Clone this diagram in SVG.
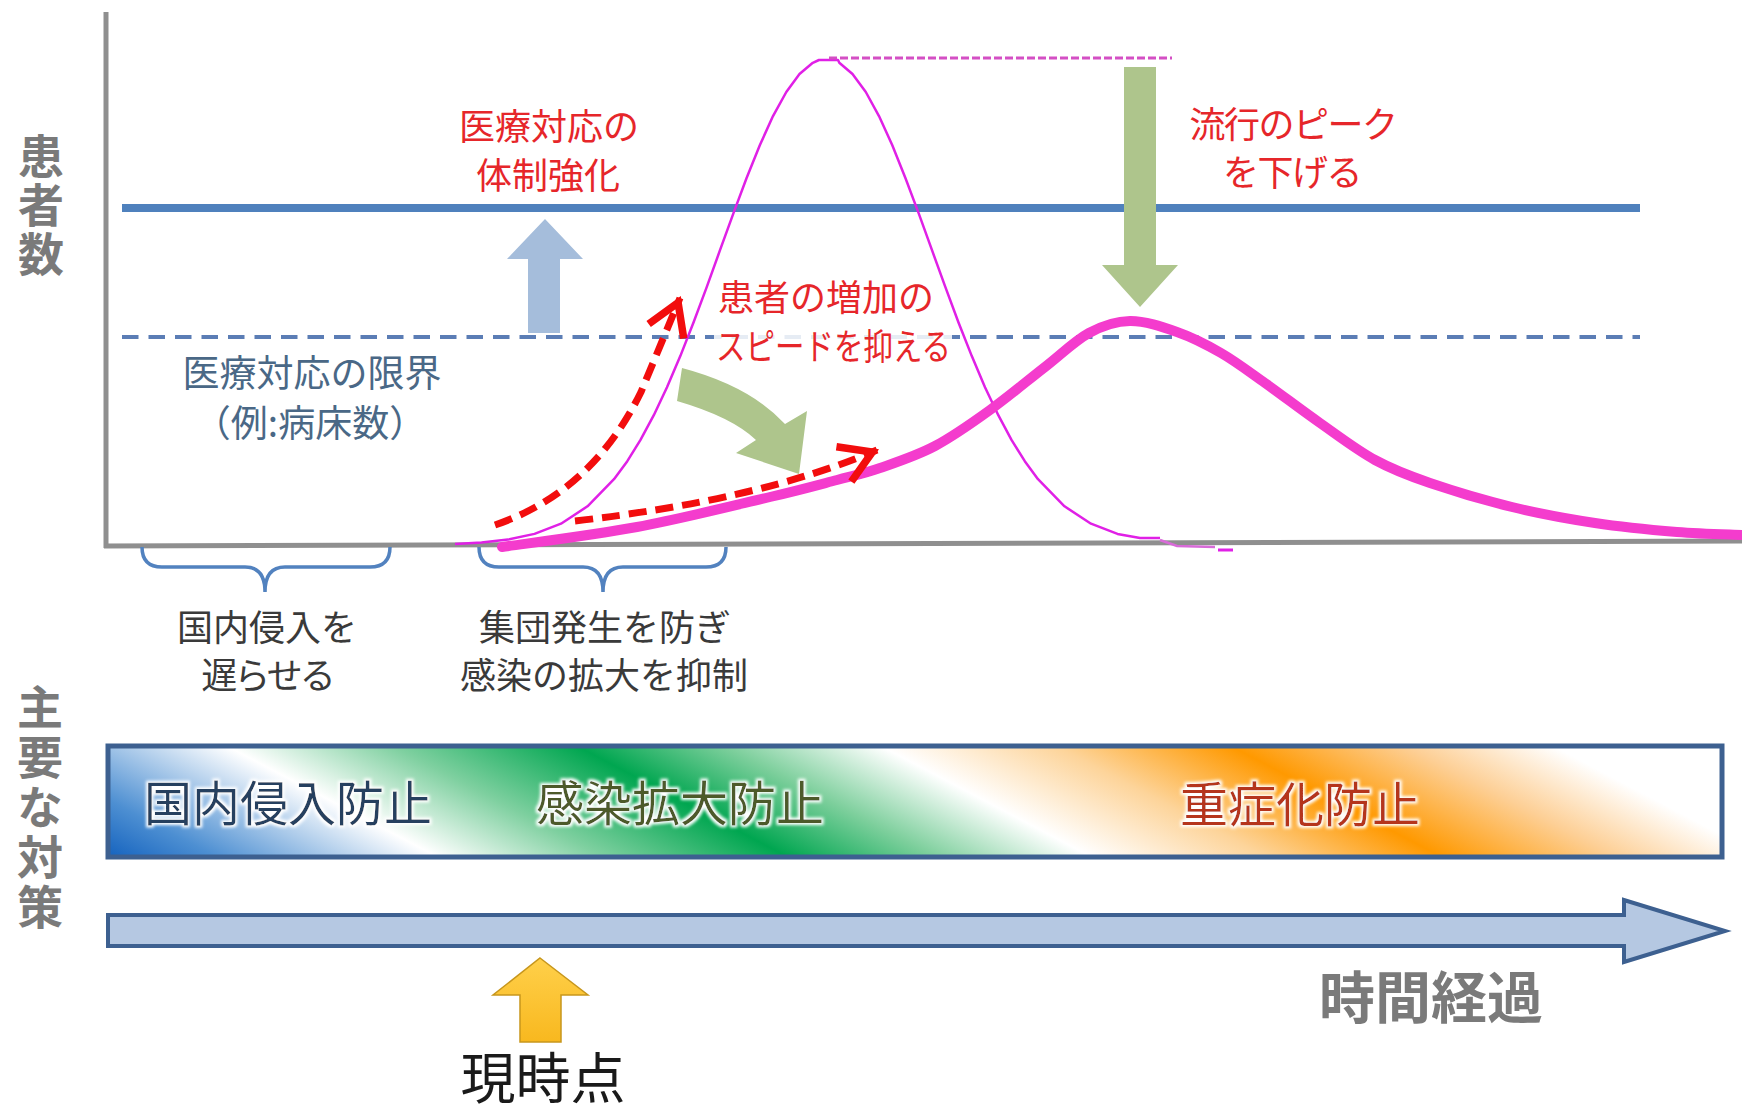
<svg xmlns="http://www.w3.org/2000/svg" width="1742" height="1113" viewBox="0 0 1742 1113">
<style>
text{font-family:"Noto Sans CJK JP","Noto Sans",sans-serif;}
.axis{stroke:#8f8f8f;stroke-width:5;fill:none;}
.red{fill:#e6262a;font-size:36px;}
.slate{fill:#4a6886;font-size:37px;}
.gray{fill:#3a3a3a;font-size:36px;}
.vlab{fill:#7a7a7a;font-size:46px;font-weight:700;writing-mode:vertical-rl;}
.brace{fill:none;stroke:#5282bf;stroke-width:3.5;}
.rdash{fill:none;stroke:#f20d0d;stroke-width:7;stroke-dasharray:18 9;marker-end:url(#redHead);}
.olive{fill:#aec58c;}
.bartxt{font-size:48px;}
</style>
<defs>
<marker id="redHead" markerUnits="userSpaceOnUse" markerWidth="70" markerHeight="70" viewBox="-50 -35 70 70" refX="0" refY="0" orient="auto" overflow="visible">
<path d="M -36 -19 L -5 0 L -36 19" fill="none" stroke="#f20d0d" stroke-width="7.5" stroke-linejoin="miter"/>
</marker>
<linearGradient id="barGrad" gradientUnits="userSpaceOnUse" x1="108" y1="0" x2="1950" y2="0" gradientTransform="translate(-1630 0) skewX(62.24)">
<stop offset="0" stop-color="#1462be"/>
<stop offset="0.06" stop-color="#4d8fd2"/>
<stop offset="0.18" stop-color="#ffffff"/>
<stop offset="0.27" stop-color="#7fd0a0"/>
<stop offset="0.37" stop-color="#00a650"/>
<stop offset="0.45" stop-color="#7dcf9c"/>
<stop offset="0.535" stop-color="#ffffff"/>
<stop offset="0.63" stop-color="#fdd49a"/>
<stop offset="0.725" stop-color="#ff9900"/>
<stop offset="0.82" stop-color="#fdcf95"/>
<stop offset="0.9" stop-color="#ffffff"/>
<stop offset="1" stop-color="#ffffff"/>
</linearGradient>
<linearGradient id="yellowGrad" x1="0" y1="0" x2="0" y2="1">
<stop offset="0" stop-color="#ffd04a"/>
<stop offset="1" stop-color="#f8b81f"/>
</linearGradient>
<filter id="glow" x="-10%" y="-30%" width="120%" height="160%">
<feMorphology in="SourceAlpha" operator="dilate" radius="2" result="d"/>
<feGaussianBlur in="d" stdDeviation="1.5" result="b"/>
<feFlood flood-color="#ffffff"/>
<feComposite in2="b" operator="in" result="w"/>
<feMerge><feMergeNode in="w"/><feMergeNode in="SourceGraphic"/></feMerge>
</filter>
</defs>
<rect width="1742" height="1113" fill="#ffffff"/>

<g id="axes">
<line class="axis" x1="106" y1="12" x2="106" y2="548"/>
<line class="axis" x1="104" y1="546" x2="1742" y2="541"/>
</g>

<g id="y-label">
<text class="vlab" x="41" y="133" letter-spacing="3">患者数</text>
</g>

<g id="capacity-lines">
<line x1="122" y1="208" x2="1640" y2="208" stroke="#4f81bd" stroke-width="8"/>
<line x1="122" y1="337" x2="1640" y2="337" stroke="#5b7db5" stroke-width="4" stroke-dasharray="16.5 10"/>
</g>

<g id="label-limit">
<text class="slate" x="312" y="387" text-anchor="middle">医療対応の限界</text>
<text class="slate" x="310" y="437" text-anchor="middle">（例:病床数）</text>
</g>

<g id="label-strengthen">
<text class="red" x="549" y="140" text-anchor="middle">医療対応の</text>
<text class="red" x="548" y="189" text-anchor="middle">体制強化</text>
</g>

<g id="label-peak">
<text class="red" x="1293" y="138" text-anchor="middle" font-size="35" letter-spacing="-1.5">流行のピーク</text>
<text class="red" x="1292" y="186" text-anchor="middle" font-size="35" letter-spacing="-1.5">を下げる</text>
</g>

<g id="curve-unmitigated">
<polyline fill="none" stroke="#e020e6" stroke-width="2.5" stroke-linejoin="round" points="455,544 481.5,542.5 508,539.6 534.5,533.9 561,523.7 587.5,506.3 614,479.2 627.3,461.2 640.5,439.9 653.8,415.2 667,387.2 680.3,356.1 693.5,322.5 706.8,286.9 720,250.2 733.3,213.6 746.5,178.2 759.8,145.2 773,116.1 786.3,92 799.5,74 812.8,62.8 819,60 838,60 839.3,62.8 852.5,74 865.8,92 879,116.1 892.3,145.2 905.5,178.2 918.8,213.6 932,250.2 945.3,286.9 958.5,322.5 971.8,356.1 985,387.2 998.3,415.2 1011.5,439.9 1024.8,461.2 1038,479.2 1064.5,506.3 1091,523.7 1117.5,533.9 1140,538 1160,538"/>
<polyline fill="none" stroke="#d86ad8" stroke-width="2.5" points="1160,540 1177,546 1215,547"/>
<line x1="1218" y1="550" x2="1233" y2="550" stroke="#e020e6" stroke-width="3"/>
<line x1="829" y1="58" x2="1172" y2="58" stroke="#d44fc4" stroke-width="3" stroke-dasharray="8 3"/>
</g>

<g id="curve-mitigated">
<path fill="none" stroke="#f43ccd" stroke-width="10" stroke-linecap="round" d="M502 547 C524.5 543.7 592.3 535.3 637 527 C681.7 518.7 736.7 504.8 770 497 C803.3 489.2 818.7 484.8 837 480 C855.3 475.2 863.7 473.7 880 468 C896.3 462.3 916.7 455.7 935 446 C953.3 436.3 971.7 423.2 990 410 C1008.3 396.8 1028.5 379.8 1045 367 C1061.5 354.2 1074.8 340.7 1089 333 C1103.2 325.3 1115.3 321.2 1130 321 C1144.7 320.8 1161.8 326.7 1177 332 C1192.2 337.3 1206.3 344.5 1221 353 C1235.7 361.5 1248.5 371.3 1265 383 C1281.5 394.7 1301.7 410.2 1320 423 C1338.3 435.8 1356.7 450 1375 460 C1393.3 470 1407.2 475.2 1430 483 C1452.8 490.8 1484.5 500.3 1512 507 C1539.5 513.7 1567.5 518.8 1595 523 C1622.5 527.2 1652.5 530 1677 532 C1701.5 534 1731.2 534.5 1742 535"/>
</g>

<g id="label-speed">
<rect x="714" y="329" width="238" height="18" fill="#ffffff" opacity="0.85"/>
<text class="red" x="718" y="311" font-size="34">患者の増加の</text>
<text class="red" x="716" y="360" font-size="34" textLength="235" lengthAdjust="spacingAndGlyphs">スピードを抑える</text>
</g>

<g id="connectors">
<path class="rdash" d="M495 525 Q592 492 641 392 L680 298"/>
<path class="rdash" d="M575 521 Q760 500 877 450"/>
<path class="olive" d="M682 368 Q750 386 785 424 L807 411 L799 474 L736 453 L756 440 Q732 417 677 401 Z"/>
<polygon class="olive" points="1124,67 1156,67 1156,265 1178,265 1140,307 1102,265 1124,265"/>
<polygon fill="#a5bddb" points="545,219 583,259 560,259 560,333 528,333 528,259 507,259"/>
</g>

<g id="brace-entry">
<path class="brace" d="M142 547 Q142 567 162 567 L245 567 Q265 567 265 592 Q265 567 285 567 L370 567 Q390 567 390 547"/>
<text class="gray" x="267" y="641" text-anchor="middle">国内侵入を</text>
<text class="gray" x="267" y="689" text-anchor="middle" letter-spacing="-3">遅らせる</text>
</g>

<g id="brace-cluster">
<path class="brace" d="M479 547 Q479 567 499 567 L583 567 Q603 567 603 592 Q603 567 623 567 L706 567 Q726 567 726 547"/>
<text class="gray" x="605" y="641" text-anchor="middle" font-size="37">集団発生を防ぎ</text>
<text class="gray" x="604" y="689" text-anchor="middle" font-size="37">感染の拡大を抑制</text>
</g>

<g id="measures-label">
<text class="vlab" x="40" y="684" letter-spacing="4">主要な対策</text>
</g>

<g id="measures-bar">
<rect x="108" y="746" width="1614" height="111" fill="url(#barGrad)" stroke="#3d6090" stroke-width="5"/>
<text class="bartxt" x="288" y="821" text-anchor="middle" fill="#263f5e" filter="url(#glow)">国内侵入防止</text>
<text class="bartxt" x="680" y="821" text-anchor="middle" fill="#4d5a2a" filter="url(#glow)">感染拡大防止</text>
<text class="bartxt" x="1300" y="822" text-anchor="middle" fill="#b5351d" filter="url(#glow)">重症化防止</text>
</g>

<g id="time-arrow">
<polygon points="108,915 1624,915 1624,900 1725,931 1624,962 1624,946 108,946" fill="#b5c8e2" stroke="#3d6090" stroke-width="4" stroke-linejoin="miter"/>
<text x="1431" y="1018" text-anchor="middle" font-size="56" font-weight="700" fill="#7a7a7a">時間経過</text>
</g>

<g id="now-marker">
<polygon points="540,958 588,995 561,995 561,1042 520,1042 520,995 493,995" fill="url(#yellowGrad)" stroke="#c7961c" stroke-width="1.5"/>
<text x="543" y="1098" text-anchor="middle" font-size="55" fill="#1a1a1a">現時点</text>
</g>
</svg>
